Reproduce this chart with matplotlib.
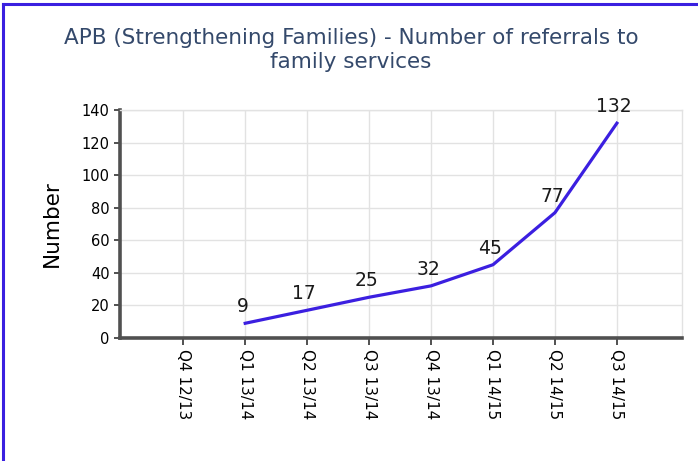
import matplotlib
matplotlib.use("Agg")
import matplotlib.pyplot as plt
from matplotlib.lines import Line2D

quarters = ["Q4 12/13", "Q1 13/14", "Q2 13/14", "Q3 13/14", "Q4 13/14",
            "Q1 14/15", "Q2 14/15", "Q3 14/15"]
# first quarter has no value
referrals = [None, 9, 17, 25, 32, 45, 77, 132]

fig = plt.figure(figsize=(6.98, 4.61), dpi=100)
ax = fig.add_axes([0.172, 0.267, 0.805, 0.494])

xs = [i for i, v in enumerate(referrals) if v is not None]
ys = [v for v in referrals if v is not None]
ax.plot(xs, ys, color="#3b1fe0", lw=2.3, solid_joinstyle="round")
for x, y in zip(xs, ys):
    ax.annotate(str(y), (x, y), xytext=(-2, 5), textcoords="offset points",
                ha="center", va="bottom", fontsize=13.5, color="#1a1a1a")

ax.set_xlim(-1.02, 8.05)
ax.set_ylim(0, 140)
ax.set_xticks(range(len(quarters)))
ax.set_xticklabels(quarters, rotation=-90, fontsize=11)
ax.set_yticks(range(0, 141, 20))
ax.tick_params(axis="y", labelsize=10.5, length=4, width=1.2, color="#333333")
ax.tick_params(axis="x", length=5, width=1.2, color="#333333", pad=3)
ax.grid(True, color="#e2e2e2", lw=1)
ax.set_axisbelow(True)

for s in ["left", "bottom"]:
    ax.spines[s].set_color("#505050")
    ax.spines[s].set_linewidth(2.6)
for s in ["top", "right"]:
    ax.spines[s].set_color("#e2e2e2")
    ax.spines[s].set_linewidth(1)

ax.set_ylabel("Number", fontsize=15.5, labelpad=14)

fig.text(0.503, 0.94, "APB (Strengthening Families) - Number of referrals to\nfamily services",
         ha="center", va="top", fontsize=15.5, color="#34496b", linespacing=1.25)

# blue frame on left and top
fig.add_artist(Line2D([0.004, 0.004], [0, 0.991], color="#3a20e0", lw=2.2,
                      transform=fig.transFigure))
fig.add_artist(Line2D([0.004, 1], [0.991, 0.991], color="#3a20e0", lw=2.2,
                      transform=fig.transFigure))

fig.savefig("out.png", dpi=100)
